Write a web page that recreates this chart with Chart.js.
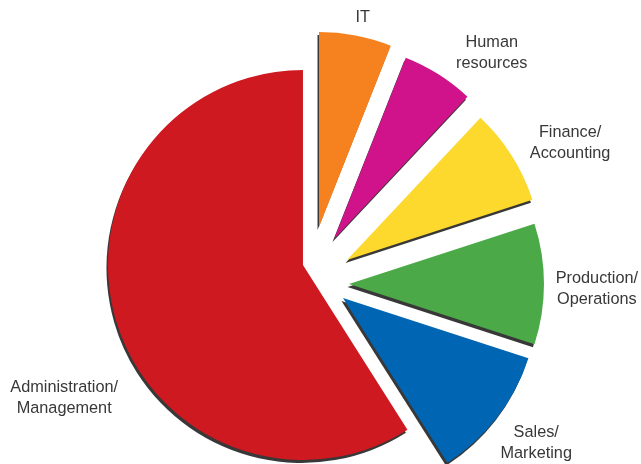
<!DOCTYPE html>
<html>
<head>
<meta charset="utf-8">
<script src="https://cdn.jsdelivr.net/npm/chart.js@4/dist/chart.umd.min.js"></script>
<style>
  html, body { margin: 0; padding: 0; background: #ffffff; }
  #wrap { position: relative; width: 641px; height: 464px; }
</style>
</head>
<body>
<div id="wrap"><canvas id="c" width="641" height="464"></canvas></div>
<script>
// ---- data ----
const categories = [
  ["IT"],
  ["Human", "resources"],
  ["Finance/", "Accounting"],
  ["Production/", "Operations"],
  ["Sales/", "Marketing"],
  ["Administration/", "Management"]
];
const shares = [6, 6, 8, 10, 11, 59];

// ---- style ----
const colors = ["#F5821F", "#D0138B", "#FDD92D", "#4BAA47", "#0066B3", "#CF1920"];
const explodeDist = [53.6, 47.0, 41.2, 38.2, 36.7, 17];   // px, along slice bisector (+ tilt)
const explodeTilt = [-2.2, -3.1, 3.3, 6, -8.4, 78];        // deg, relative to bisector
const labelPlace = [[11.1, 269], [38.4, 291], [61.8, 294], [91.6, 286], [125.6, 277], [244.7, 273]]; // [deg from 12 o'clock, px from centre]
const labelFont = '16.3px "Liberation Sans", Arial, sans-serif';
const labelColor = "#383838";
const lineH = 21;
const labelDy = 1.5;

const explodePlugin = {
  id: "explode",
  beforeDatasetDraw(chart, args) {
    const ctx = chart.ctx;
    args.meta.data.forEach((arc, i) => {
      const mid = (arc.startAngle + arc.endAngle) / 2 + explodeTilt[i] * Math.PI / 180;
      ctx.save();
      ctx.translate(Math.cos(mid) * explodeDist[i], Math.sin(mid) * explodeDist[i]);
      ctx.shadowColor = "rgba(45,45,45,0.95)";
      ctx.shadowOffsetX = -1.5;
      ctx.shadowOffsetY = 3;
      ctx.shadowBlur = 0.5;
      arc.draw(ctx);
      ctx.restore();
    });
    return false;
  },
  afterDraw(chart) {
    const ctx = chart.ctx;
    const a0 = chart.getDatasetMeta(0).data[0];
    const cx = a0.x, cy = a0.y;
    ctx.save();
    ctx.font = labelFont;
    ctx.fillStyle = labelColor;
    ctx.textAlign = "center";
    ctx.textBaseline = "middle";
    labelPlace.forEach(([deg, r], i) => {
      const a = deg * Math.PI / 180;
      const x = cx + Math.sin(a) * r;
      const y = cy - Math.cos(a) * r + labelDy;
      const lines = categories[i];
      lines.forEach((t, k) => ctx.fillText(t, x, y + (k - (lines.length - 1) / 2) * lineH));
    });
    ctx.restore();
  }
};

new Chart(document.getElementById("c"), {
  type: "pie",
  data: {
    labels: categories.map(l => l.join(" ")),
    datasets: [{
      data: shares,
      backgroundColor: colors,
      borderWidth: 0,
      offset: 0,
      hoverOffset: 0
    }]
  },
  options: {
    responsive: false,
    animation: false,
    events: [],
    radius: 195,
    layout: { padding: { left: 0, right: 19, top: 96, bottom: 0 } },
    plugins: { legend: { display: false }, tooltip: { enabled: false } }
  },
  plugins: [explodePlugin]
});
</script>
</body>
</html>
